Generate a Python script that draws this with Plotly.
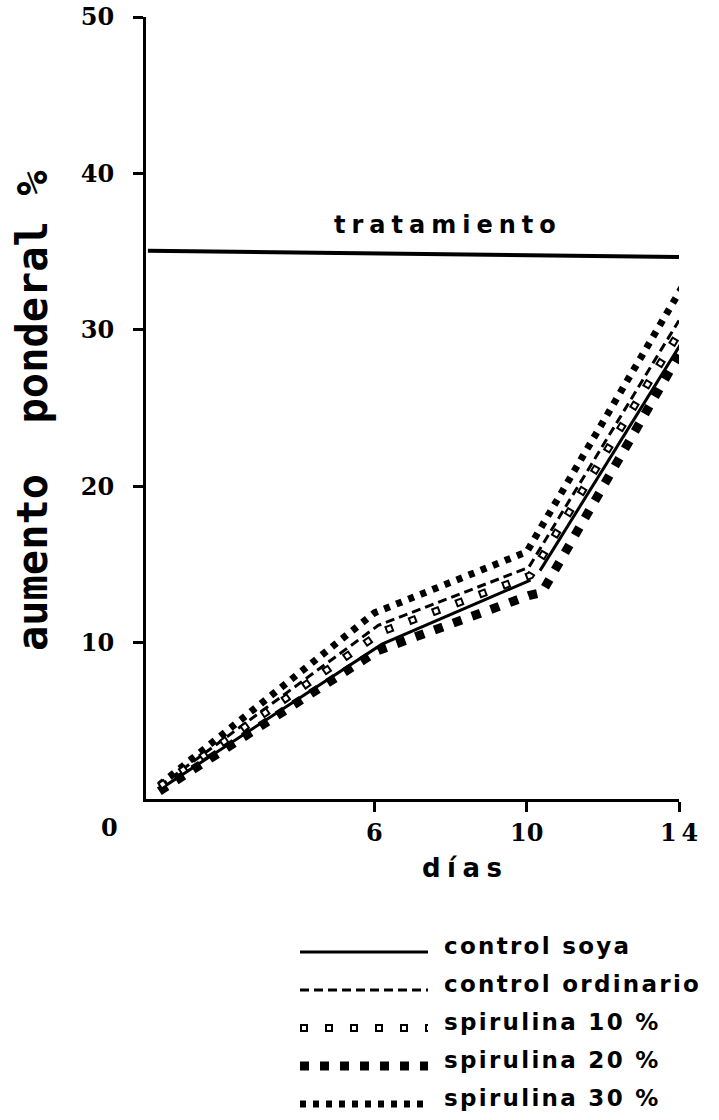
import plotly.graph_objects as go

# ---- data: weight gain (%) at the vertices of each curve -------------------
soya_days = [0.35, 6.2, 10.1, None, 10.35, 14.15]
soya_gain = [0.6, 9.9, 14.0, None, 14.6, 29.5]

ordinario_days = [0.35, 6.1, 10.05, 14.0]
ordinario_gain = [0.8, 11.1, 14.8, 30.6]

spir10_days = [0.35, 6.2, 10.1, 14.05]
spir10_gain = [0.8, 10.7, 14.3, 30.0]

spir20_days = [0.35, 6.1, 10.05, 10.4, 14.0]
spir20_gain = [0.5, 9.5, 13.0, 13.2, 28.4]

spir30_days = [0.35, 6.0, 10.0, 14.1]
spir30_gain = [0.9, 11.9, 15.8, 32.8]

# treatment period bar
treatment_days = [0.05, 14.16]
treatment_level = [35.05, 34.65]

x_tick_vals = [6, 10, 14]
x_tick_text = ["6", "10", "1\u20094"]
y_tick_vals = [10, 20, 30, 40, 50]
y_tick_text = ["10", "20", "30", "40", "50"]

legend_labels = ["control soya", "control ordinario",
                 "spirulina 10 %", "spirulina 20 %", "spirulina 30 %"]

# ---- page geometry (pixels) -------------------------------------------------
W, H = 719, 1120
L, R, T, B = 146, 679, 17, 799          # plot area edges


def paper(xp, yp):
    """pixel position -> paper coordinates"""
    return (xp - L) / (R - L), (B - yp) / (B - T)


def spread(text, gap):
    return gap.join(text)


INK = "black"
SANS = "DejaVu Sans"
SERIF = "DejaVu Serif"
MONO = "DejaVu Sans Mono"

# line styles (dash patterns build the marker-like patterns)
style_soya = dict(color=INK, width=3)
style_ord = dict(color=INK, width=3, dash="9px,5px")
style_10_ink = dict(color=INK, width=8, dash="8px,17px")
style_10_hole = dict(color="white", width=4, dash="0px,2px,4px,19px")
style_20 = dict(color=INK, width=9, dash="9px,11px")
style_30 = dict(color=INK, width=7, dash="6px,7px")

fig = go.Figure()


def add_line(xs, ys, line):
    fig.add_trace(go.Scatter(x=xs, y=ys, mode="lines", line=line,
                             cliponaxis=False, showlegend=False,
                             hoverinfo="skip"))


add_line(treatment_days, treatment_level, dict(color=INK, width=4))
add_line(soya_days, soya_gain, style_soya)
add_line(ordinario_days, ordinario_gain, style_ord)
add_line(spir20_days, spir20_gain, style_20)
add_line(spir30_days, spir30_gain, style_30)
add_line(spir10_days, spir10_gain, style_10_ink)
add_line(spir10_days, spir10_gain, style_10_hole)

# ---- legend drawn below the chart --------------------------------------------
shapes = []
annotations = []


def label(text, xp, yp, font, **kw):
    ax, ay = paper(xp, yp)
    opts = dict(xanchor="center", yanchor="middle")
    opts.update(kw)
    annotations.append(dict(text=text, x=ax, y=ay, xref="paper",
                            yref="paper", showarrow=False, font=font,
                            **opts))


legend_styles = [[style_soya], [style_ord], [style_10_ink, style_10_hole],
                 [style_20], [style_30]]
row_centers = [946, 984, 1022, 1060, 1098]
for text, styles, yc in zip(legend_labels, legend_styles, row_centers):
    x0, y0 = paper(300, yc + 6)
    x1, _ = paper(428, yc + 6)
    for st in styles:
        shapes.append(dict(type="line", xref="paper", yref="paper",
                           x0=x0, x1=x1, y0=y0, y1=y0,
                           line=dict(color=st["color"], width=st["width"],
                                     dash=st.get("dash", "solid"))))
    label(spread(text, "\u200a"), 442, yc,
          dict(family=SANS, size=23, color=INK, weight="bold"),
          xanchor="left")

# chart labels
label(spread("tratamiento", "\u2005"), 445, 225,
      dict(family=SANS, size=24, color=INK, weight="bold"))
label(spread("días", "\u2005"), 462, 868,
      dict(family=SANS, size=26, color=INK, weight="bold"))
label("aumento\u00a0\u00a0ponderal\u00a0%", 32, 411,
      dict(family=MONO, size=42, color=INK, weight="bold"), textangle=-90)
label("0", 109, 828, dict(family=SERIF, size=24, color=INK, weight="bold"))

tick_font = dict(family=SERIF, size=24, color=INK, weight="bold")
fig.update_layout(
    template="none",
    width=W, height=H,
    margin=dict(l=L, r=W - R, t=T, b=H - B, pad=0),
    paper_bgcolor="white", plot_bgcolor="white",
    showlegend=False,
    xaxis=dict(range=[0, 14], showgrid=False, zeroline=False,
               showline=True, linecolor=INK, linewidth=3,
               ticks="outside", ticklen=10, tickwidth=3, tickcolor=INK,
               tickvals=x_tick_vals, ticktext=x_tick_text,
               tickfont=tick_font, ticklabelstandoff=0, automargin=False),
    yaxis=dict(range=[0, 50], showgrid=False, zeroline=False,
               showline=True, linecolor=INK, linewidth=3,
               ticks="outside", ticklen=10, tickwidth=3, tickcolor=INK,
               tickvals=y_tick_vals, ticktext=y_tick_text,
               tickfont=tick_font, ticklabelstandoff=14, automargin=False),
    shapes=shapes,
    annotations=annotations,
)

fig.write_html("out.html")
